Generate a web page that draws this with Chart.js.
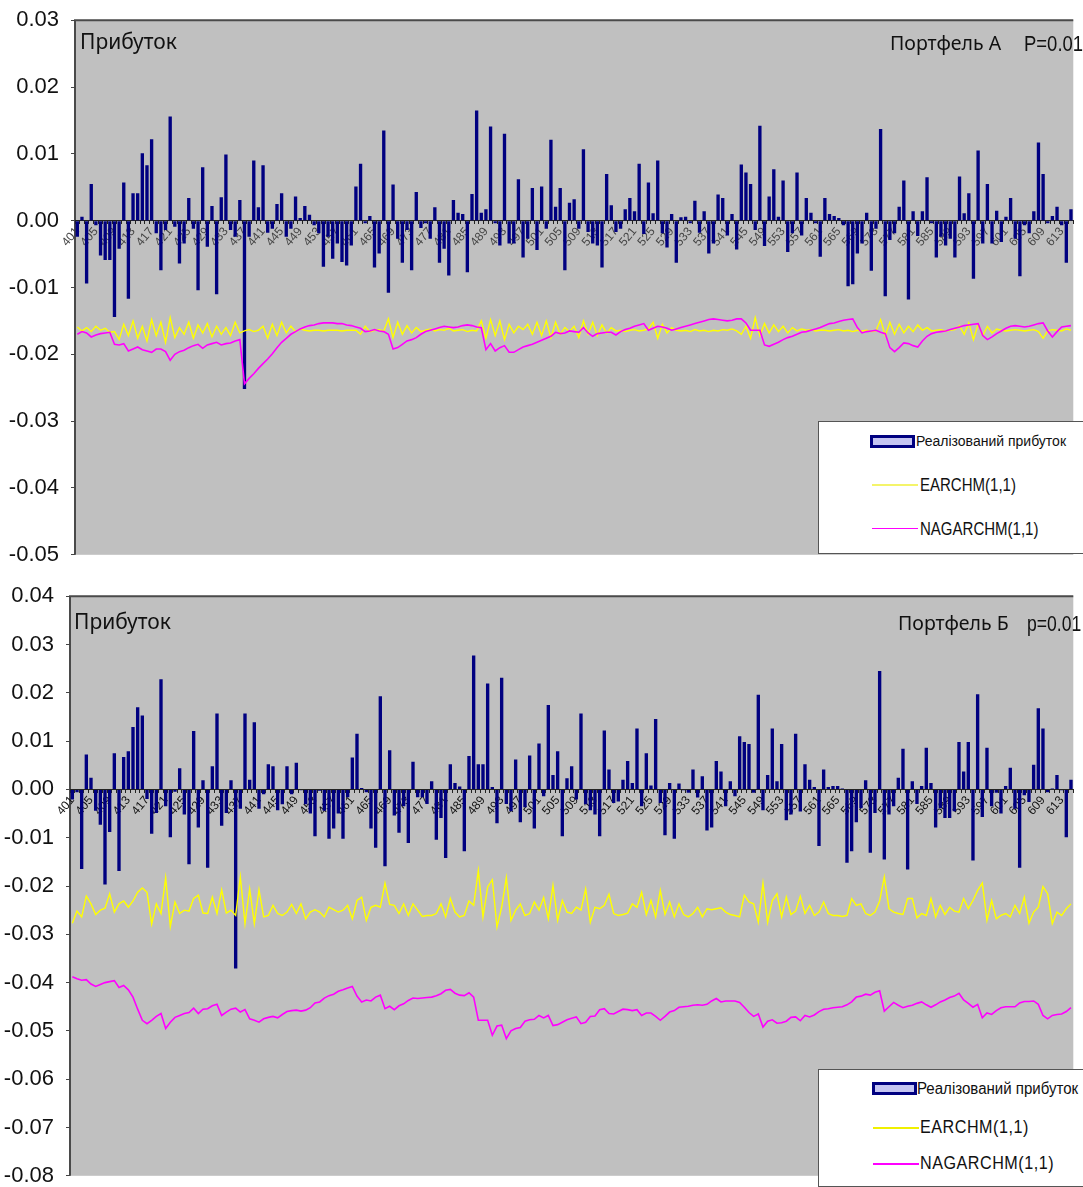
<!DOCTYPE html>
<html>
<head>
<meta charset="utf-8">
<script src="https://cdn.jsdelivr.net/npm/chart.js@4.4.1/dist/chart.umd.min.js"></script>
<style>
body { margin: 0; background: #fff; width: 1083px; height: 1187px; position: relative; overflow: hidden; }
.panel { position: absolute; left: 0; width: 1083px; }
#p1 { top: 0; }
#p2 { top: 576px; }
.txt { position: absolute; white-space: nowrap; color: #111; line-height: 1; transform-origin: 0 50%; }
.cap { font-family: 'Noto Sans', 'Open Sans', sans-serif; font-size: 21px; }
.narrow { font-family: 'Liberation Sans', Arial, sans-serif; }
.legend { position: absolute; background: #fff; border: 1px solid #555; }
.sym { position: absolute; width: 39px; height: 7px; border: 3px solid #000080; background: #c4c4f2; }
.ln { position: absolute; width: 46px; height: 0; }
</style>
</head>
<body>
<div class="panel" id="p1"><canvas id="chartA" width="1083" height="575"></canvas></div>
<div class="panel" id="p2"><canvas id="chartB" width="1083" height="611"></canvas></div>

<div class="txt cap" style="left:80px;top:31px;">Прибуток</div>
<div class="txt cap" style="left:890px;top:33px;font-size:19.5px;">Портфель А</div>
<div class="txt narrow" style="left:1024px;top:33px;font-size:22px;transform:scaleX(0.84);">P=0.01</div>

<div class="txt cap" style="left:74px;top:611px;">Прибуток</div>
<div class="txt cap" style="left:898px;top:613px;font-size:19.5px;">Портфель Б</div>
<div class="txt narrow" style="left:1027px;top:613px;font-size:22px;transform:scaleX(0.8);">p=0.01</div>

<div class="legend" style="left:818px;top:421px;width:264px;height:131px;">
  <div class="sym" style="left:51px;top:13px;"></div>
  <div class="txt narrow" style="left:97px;top:12px;font-size:14px;">Реалізований прибуток</div>
  <div class="ln" style="left:53px;top:62px;border-top:2px solid #f4f46a;"></div>
  <div class="txt narrow" style="left:101px;top:53px;font-size:19px;transform:scaleX(0.79);">EARCHM(1,1)</div>
  <div class="ln" style="left:53px;top:106px;border-top:1px solid #ff00ff;"></div>
  <div class="txt narrow" style="left:101px;top:97px;font-size:19px;transform:scaleX(0.79);">NAGARCHM(1,1)</div>
</div>

<div class="legend" style="left:818px;top:1069px;width:264px;height:116px;">
  <div class="sym" style="left:53px;top:12px;"></div>
  <div class="txt narrow" style="left:98px;top:11px;font-size:16px;transform:scaleX(0.94);">Реалізований прибуток</div>
  <div class="ln" style="left:54px;top:57px;border-top:2px solid #f0f000;"></div>
  <div class="txt narrow" style="left:101px;top:47px;font-size:19px;transform:scaleX(0.85);letter-spacing:0.6px;">EARCHM(1,1)</div>
  <div class="ln" style="left:54px;top:93px;border-top:2px solid #ff00ff;"></div>
  <div class="txt narrow" style="left:101px;top:83px;font-size:19px;transform:scaleX(0.85);letter-spacing:0.6px;">NAGARCHM(1,1)</div>
</div>

<script>
// categories 401..615
const categories = Array.from({ length: 215 }, (_, i) => String(401 + i));

// Portfolio A
const barsA = [
  -0.0024, 0.0006, -0.0094, 0.0055, -0.0007, -0.0052, -0.0059, -0.0059, -0.0144, -0.0042,
  0.0057, -0.0117, 0.0041, 0.0041, 0.0101, 0.0083, 0.0122, -0.0019, -0.0074, -0.0014,
  0.0156, -0.0009, -0.0064, -0.0034, 0.0034, -0.0012, -0.0104, 0.0080, -0.0039, 0.0022,
  -0.0110, 0.0035, 0.0099, -0.0014, -0.0024, 0.0031, -0.0252, -0.0024, 0.0090, 0.0020,
  0.0083, -0.0018, -0.0012, 0.0025, 0.0041, -0.0024, -0.0012, 0.0036, 0.0004, 0.0022,
  0.0009, -0.0007, -0.0019, -0.0069,
  -0.0024, -0.0057, -0.0034, -0.0062, -0.0067, -0.0037, 0.0051, 0.0085, -0.0004, 0.0007,
  -0.0070, -0.0049, 0.0135, -0.0108, 0.0054, -0.0027, -0.0063, -0.0014, -0.0074, 0.0043,
  -0.0011, -0.0004, -0.0027, 0.0020, -0.0063, -0.0042, -0.0082, 0.0031, 0.0012, 0.0010,
  -0.0077, 0.0040, 0.0165, 0.0012, 0.0017, 0.0141, -0.0004, -0.0037, 0.0130, -0.0034,
  -0.0034, 0.0062, -0.0055, -0.0027, 0.0049, -0.0044, 0.0051, -0.0012, 0.0121, 0.0021,
  0.0049, -0.0074, 0.0027, 0.0032, -0.0012,
  0.0107, -0.0017, -0.0034, -0.0037, -0.0070, 0.0070, 0.0023, -0.0017, -0.0012, 0.0017,
  0.0034, 0.0014, 0.0085, -0.0020, 0.0057, 0.0011, 0.0090, -0.0019, -0.0040, 0.0010,
  -0.0063, 0.0005, 0.0006, -0.0004, 0.0030, -0.0018, 0.0014, -0.0049, -0.0034, 0.0039,
  0.0034, -0.0022, 0.0010, -0.0043, 0.0084, 0.0072, 0.0055, -0.0014, 0.0142, -0.0038,
  0.0036, 0.0077, 0.0006, 0.0060, -0.0047, -0.0019, 0.0072, -0.0022, 0.0034, 0.0012,
  -0.0004, -0.0054, 0.0034, 0.0010,
  0.0007, 0.0004, -0.0007, -0.0098, -0.0095, -0.0049, -0.0034, 0.0012, -0.0075, -0.0012,
  0.0137, -0.0113, -0.0029, -0.0019, 0.0021, 0.0060, -0.0118, 0.0014, -0.0023, 0.0014,
  0.0065, -0.0004, -0.0055, -0.0024, -0.0037, -0.0027, -0.0055, 0.0066, 0.0011, 0.0041,
  -0.0087, 0.0105, -0.0034, 0.0055, -0.0034, 0.0015, -0.0032, 0.0006, 0.0034, -0.0027,
  -0.0083, -0.0007, -0.0019, 0.0014, 0.0117, 0.0070, -0.0004, 0.0007, 0.0021, -0.0007,
  -0.0063, 0.0017
];
const earchA = [
  -0.0159, -0.0165, -0.0160, -0.0166, -0.0158, -0.0164, -0.0161, -0.0167,
  -0.0166, -0.0178, -0.0155, -0.0172, -0.0150, -0.0176, -0.0158, -0.0180, -0.0148, -0.0172,
  -0.0152, -0.0182, -0.0145, -0.0175, -0.0160, -0.0170, -0.0152, -0.0176, -0.0156, -0.0168,
  -0.0154, -0.0174, -0.0158, -0.0170, -0.0160, -0.0172, -0.0152, -0.0168,
  -0.0165, -0.0163, -0.0166, -0.0164,
  -0.0158, -0.0176, -0.0155, -0.0172, -0.0152, -0.0168, -0.0158, -0.0166, -0.0162,
  -0.0164, -0.0165, -0.0164, -0.0164, -0.0165, -0.0164, -0.0164, -0.0164, -0.0165, -0.0164, -0.0164, -0.0164,
  -0.0170, -0.0158, -0.0166,
  -0.0164, -0.0163, -0.0165,
  -0.0147, -0.0175, -0.0152, -0.0170, -0.0157, -0.0168, -0.0160, -0.0166,
  -0.0164, -0.0162, -0.0165, -0.0163, -0.0164, -0.0161, -0.0165, -0.0164, -0.0163, -0.0166, -0.0164, -0.0165,
  -0.0150, -0.0176, -0.0148, -0.0172, -0.0150, -0.0178, -0.0155, -0.0168, -0.0158, -0.0163,
  -0.0155, -0.0170, -0.0152, -0.0172, -0.0150, -0.0175, -0.0152, -0.0170, -0.0160, -0.0166,
  -0.0158, -0.0175, -0.0150, -0.0170, -0.0152, -0.0172, -0.0156, -0.0168, -0.0160, -0.0165,
  -0.0164, -0.0166, -0.0164, -0.0163, -0.0165, -0.0164, -0.0162,
  -0.0152, -0.0176, -0.0155, -0.0168, -0.0160,
  -0.0164, -0.0165, -0.0164, -0.0166, -0.0163, -0.0165, -0.0164, -0.0166, -0.0164, -0.0165, -0.0163, -0.0164, -0.0162, -0.0165,
  -0.0170, -0.0158, -0.0176, -0.0145, -0.0172, -0.0154, -0.0168, -0.0156, -0.0166, -0.0158, -0.0168, -0.0160, -0.0165, -0.0162,
  -0.0164, -0.0163, -0.0165, -0.0164, -0.0164, -0.0165, -0.0164, -0.0163, -0.0165, -0.0164, -0.0166, -0.0164, -0.0165, -0.0164, -0.0166, -0.0165,
  -0.0148, -0.0172, -0.0152, -0.0170, -0.0155, -0.0168, -0.0158, -0.0166, -0.0156, -0.0164, -0.0160, -0.0165,
  -0.0164, -0.0163, -0.0165, -0.0164, -0.0163,
  -0.0157, -0.0170, -0.0153, -0.0178, -0.0155, -0.0172, -0.0158, -0.0168, -0.0162,
  -0.0164, -0.0165, -0.0164, -0.0163, -0.0164, -0.0165, -0.0164, -0.0163,
  -0.0166, -0.0176, -0.0165, -0.0163, -0.0164, -0.0165, -0.0162, -0.0164
];
const nagarchA = [
  -0.0170, -0.0166, -0.0168, -0.0174, -0.0171, -0.0169, -0.0168, -0.0167, -0.0185, -0.0186,
  -0.0184, -0.0195, -0.0192, -0.0189, -0.0193, -0.0195, -0.0197, -0.0192, -0.0192, -0.0196,
  -0.0209, -0.0200, -0.0196, -0.0194, -0.0190, -0.0187, -0.0185, -0.0191, -0.0186, -0.0184,
  -0.0182, -0.0186, -0.0184, -0.0183, -0.0180, -0.0178, -0.0244, -0.0236, -0.0229, -0.0221,
  -0.0214, -0.0207, -0.0199, -0.0190, -0.0182, -0.0176, -0.0170, -0.0166, -0.0162, -0.0159,
  -0.0157, -0.0156, -0.0154, -0.0153, -0.0153, -0.0153, -0.0154, -0.0154, -0.0156, -0.0157,
  -0.0159, -0.0161, -0.0166, -0.0165, -0.0163, -0.0165, -0.0166, -0.0170, -0.0192, -0.0190,
  -0.0185, -0.0180, -0.0178, -0.0175, -0.0170, -0.0166, -0.0164, -0.0162, -0.0160, -0.0158,
  -0.0159, -0.0160, -0.0159, -0.0157, -0.0156, -0.0157, -0.0159, -0.0160, -0.0193, -0.0184,
  -0.0195, -0.0190, -0.0187, -0.0197, -0.0197, -0.0193, -0.0189, -0.0187, -0.0185, -0.0182,
  -0.0179, -0.0176, -0.0173, -0.0167, -0.0169, -0.0168, -0.0165, -0.0166, -0.0167, -0.0160,
  -0.0168, -0.0173, -0.0169, -0.0168, -0.0167, -0.0167, -0.0171, -0.0166, -0.0163, -0.0161,
  -0.0158, -0.0156, -0.0154, -0.0164, -0.0161, -0.0158, -0.0159, -0.0161, -0.0164, -0.0162,
  -0.0160, -0.0158, -0.0156, -0.0154, -0.0152, -0.0150, -0.0148, -0.0147, -0.0148, -0.0149,
  -0.0150, -0.0149, -0.0147, -0.0147, -0.0153, -0.0164, -0.0164, -0.0164, -0.0186, -0.0188,
  -0.0185, -0.0182, -0.0178, -0.0175, -0.0173, -0.0170, -0.0167, -0.0166, -0.0164, -0.0162,
  -0.0160, -0.0157, -0.0154, -0.0153, -0.0151, -0.0149, -0.0148, -0.0147, -0.0160, -0.0168,
  -0.0166, -0.0165, -0.0164, -0.0167, -0.0169, -0.0190, -0.0196, -0.0190, -0.0183, -0.0184,
  -0.0187, -0.0189, -0.0180, -0.0173, -0.0169, -0.0167, -0.0166, -0.0165, -0.0163, -0.0161,
  -0.0159, -0.0157, -0.0156, -0.0155, -0.0154, -0.0172, -0.0178, -0.0174, -0.0169, -0.0165,
  -0.0161, -0.0158, -0.0157, -0.0158, -0.0159, -0.0158, -0.0156, -0.0154, -0.0153, -0.0165,
  -0.0174, -0.0166, -0.0159, -0.0158, -0.0157
];

// Portfolio B
const barsB = [
  -0.0021, -0.0006, -0.0165, 0.0072, 0.0024, -0.0044, -0.0073, -0.0197, -0.0088, 0.0075,
  -0.0169, 0.0067, 0.0079, 0.0129, 0.0170, 0.0153, -0.0020, -0.0092, -0.0049, 0.0228,
  -0.0035, -0.0099, -0.0005, 0.0044, -0.0052, -0.0155, 0.0121, -0.0079, 0.0019, -0.0162,
  0.0048, 0.0157, -0.0075, -0.0049, 0.0019, -0.0371, -0.0040, 0.0157, 0.0020, 0.0139,
  -0.0040, -0.0010, 0.0052, 0.0048, -0.0043, -0.0031, 0.0048, -0.0010, 0.0055, -0.0002,
  -0.0031, -0.0050, -0.0097,
  -0.0003, -0.0044, -0.0102, -0.0081, -0.0050, -0.0102, -0.0016, 0.0066, 0.0115, 0.0003,
  -0.0006, -0.0081, -0.0121, 0.0193, -0.0159, 0.0081, -0.0054, -0.0090, -0.0035, -0.0111,
  0.0057, -0.0016, -0.0016, -0.0030, 0.0017, -0.0104, -0.0059, -0.0142, 0.0052, 0.0013,
  0.0006, -0.0128, 0.0069, 0.0277, 0.0052, 0.0052, 0.0219, 0.0005, -0.0070, 0.0231,
  -0.0030, -0.0045, 0.0062, -0.0068, -0.0037, 0.0070, -0.0081, 0.0095, -0.0014, 0.0175,
  0.0030, 0.0079, -0.0097, 0.0023,
  0.0048, -0.0021, 0.0157, -0.0031, -0.0043, -0.0052, -0.0097, 0.0122, 0.0041, -0.0028,
  -0.0025, 0.0020, 0.0059, 0.0013, 0.0126, -0.0035, 0.0075, 0.0008, 0.0146, -0.0028,
  -0.0095, 0.0013, -0.0102, 0.0012, -0.0002, -0.0007, 0.0041, -0.0017, 0.0027, -0.0085,
  -0.0079, 0.0059, 0.0037, -0.0035, 0.0017, -0.0014, 0.0110, 0.0098, 0.0094, -0.0007,
  0.0196, -0.0043, 0.0030, 0.0126, 0.0017, 0.0094, -0.0064, -0.0052, 0.0115, -0.0046,
  0.0052, 0.0020, 0.0005, -0.0117,
  0.0041, 0.0005, 0.0007, 0.0007, 0.0002, -0.0152, -0.0128, -0.0068, -0.0039, 0.0019,
  -0.0131, -0.0049, 0.0245, -0.0145, -0.0052, -0.0035, 0.0024, 0.0084, -0.0166, 0.0017,
  -0.0030, 0.0007, 0.0086, 0.0013, -0.0079, -0.0039, -0.0059, -0.0059, -0.0045, 0.0098,
  0.0037, 0.0098, -0.0147, 0.0197, -0.0057, 0.0086, -0.0035, -0.0007, -0.0050, 0.0007,
  0.0045, -0.0040, -0.0162, -0.0012, -0.0026, 0.0051, 0.0168, 0.0126, -0.0006, 0.0002,
  0.0030, -0.0002, -0.0099, 0.0020
];
const earchB = [
  -0.0277, -0.0252, -0.0264, -0.0221, -0.0237, -0.0259, -0.0250, -0.0246, -0.0216, -0.0254,
  -0.0237, -0.0231, -0.0244, -0.0231, -0.0213, -0.0204, -0.0213, -0.0279, -0.0237, -0.0257,
  -0.0183, -0.0284, -0.0233, -0.0257, -0.0250, -0.0252, -0.0226, -0.0219, -0.0256, -0.0257,
  -0.0223, -0.0257, -0.0208, -0.0256, -0.0250, -0.0261, -0.0181, -0.0278, -0.0206, -0.0278,
  -0.0208, -0.0264, -0.0261, -0.0240, -0.0257, -0.0261, -0.0254, -0.0238, -0.0257, -0.0237,
  -0.0268, -0.0254, -0.0249,
  -0.0254, -0.0264, -0.0244, -0.0249, -0.0254, -0.0250, -0.0240, -0.0268, -0.0230, -0.0223,
  -0.0271, -0.0244, -0.0240, -0.0244, -0.0194, -0.0238, -0.0240, -0.0257, -0.0237, -0.0261,
  -0.0237, -0.0250, -0.0263, -0.0261, -0.0261, -0.0257, -0.0237, -0.0264, -0.0226, -0.0254,
  -0.0264, -0.0261, -0.0231, -0.0240, -0.0168, -0.0264, -0.0202, -0.0187, -0.0285, -0.0244,
  -0.0183, -0.0271, -0.0250, -0.0237, -0.0261, -0.0257, -0.0233, -0.0250, -0.0224, -0.0268,
  -0.0199, -0.0271, -0.0230, -0.0254,
  -0.0257, -0.0244, -0.0250, -0.0206, -0.0275, -0.0244, -0.0247, -0.0240, -0.0217, -0.0257,
  -0.0261, -0.0259, -0.0256, -0.0237, -0.0244, -0.0213, -0.0259, -0.0230, -0.0264, -0.0209,
  -0.0259, -0.0233, -0.0264, -0.0237, -0.0259, -0.0264, -0.0257, -0.0244, -0.0264, -0.0247,
  -0.0249, -0.0247, -0.0245, -0.0254, -0.0259, -0.0261, -0.0264, -0.0219, -0.0233, -0.0237,
  -0.0275, -0.0194, -0.0275, -0.0230, -0.0216, -0.0264, -0.0223, -0.0259, -0.0252, -0.0221,
  -0.0257, -0.0240, -0.0261, -0.0254,
  -0.0233, -0.0257, -0.0261, -0.0261, -0.0263, -0.0261, -0.0226, -0.0240, -0.0237, -0.0257,
  -0.0261, -0.0254, -0.0231, -0.0181, -0.0247, -0.0254, -0.0257, -0.0259, -0.0226, -0.0226,
  -0.0266, -0.0257, -0.0261, -0.0226, -0.0264, -0.0240, -0.0259, -0.0244, -0.0252, -0.0254,
  -0.0226, -0.0247, -0.0230, -0.0209, -0.0194, -0.0271, -0.0230, -0.0268, -0.0261, -0.0257,
  -0.0264, -0.0240, -0.0257, -0.0223, -0.0277, -0.0254, -0.0244, -0.0201, -0.0216, -0.0278,
  -0.0254, -0.0261, -0.0247, -0.0237
];
const nagarchB = [
  -0.0388, -0.0392, -0.0395, -0.0394, -0.0403, -0.0408, -0.0404, -0.0400, -0.0398, -0.0396,
  -0.0410, -0.0406, -0.0415, -0.0430, -0.0455, -0.0478, -0.0485, -0.0478, -0.0470, -0.0464,
  -0.0495, -0.0482, -0.0472, -0.0468, -0.0464, -0.0462, -0.0453, -0.0464, -0.0455, -0.0454,
  -0.0448, -0.0445, -0.0468, -0.0461, -0.0455, -0.0453, -0.0461, -0.0456, -0.0475, -0.0478,
  -0.0482, -0.0475, -0.0472, -0.0470, -0.0473, -0.0466, -0.0460, -0.0458, -0.0457, -0.0459,
  -0.0457, -0.0452, -0.0442, -0.0440, -0.0432, -0.0427, -0.0424, -0.0418, -0.0415, -0.0411,
  -0.0408, -0.0428, -0.0440, -0.0436, -0.0438, -0.0430, -0.0426, -0.0454, -0.0449, -0.0456,
  -0.0448, -0.0444, -0.0437, -0.0432, -0.0433, -0.0432, -0.0431, -0.0430, -0.0427, -0.0423,
  -0.0416, -0.0414, -0.0422, -0.0426, -0.0427, -0.0421, -0.0430, -0.0478, -0.0478, -0.0478,
  -0.0509, -0.0490, -0.0488, -0.0516, -0.0500, -0.0495, -0.0493, -0.0480, -0.0477, -0.0476,
  -0.0468, -0.0473, -0.0468, -0.0489, -0.0487, -0.0482, -0.0477, -0.0474, -0.0471, -0.0485,
  -0.0482, -0.0470, -0.0469, -0.0456, -0.0454, -0.0464, -0.0465, -0.0460, -0.0455, -0.0456,
  -0.0458, -0.0456, -0.0468, -0.0463, -0.0463, -0.0470, -0.0478, -0.0470, -0.0461, -0.0458,
  -0.0451, -0.0450, -0.0449, -0.0447, -0.0446, -0.0447, -0.0445, -0.0438, -0.0433, -0.0440,
  -0.0438, -0.0438, -0.0438, -0.0441, -0.0451, -0.0462, -0.0470, -0.0465, -0.0492, -0.0480,
  -0.0477, -0.0484, -0.0483, -0.0480, -0.0472, -0.0471, -0.0479, -0.0468, -0.0471, -0.0467,
  -0.0460, -0.0455, -0.0454, -0.0452, -0.0451, -0.0450, -0.0446, -0.0440, -0.0430, -0.0428,
  -0.0424, -0.0426, -0.0420, -0.0417, -0.0459, -0.0450, -0.0441, -0.0447, -0.0452, -0.0449,
  -0.0447, -0.0443, -0.0440, -0.0446, -0.0451, -0.0446, -0.0440, -0.0436, -0.0431, -0.0428,
  -0.0422, -0.0436, -0.0443, -0.0451, -0.0445, -0.0473, -0.0463, -0.0466, -0.0458, -0.0452,
  -0.0450, -0.0450, -0.0450, -0.0442, -0.0439, -0.0439, -0.0438, -0.0445, -0.0468, -0.0475,
  -0.0468, -0.0466, -0.0465, -0.0460, -0.0452
];

const TICK_FONT = "'Liberation Sans', Arial, sans-serif";

// gray plot area with dark top and left edges
const plotBg = {
    id: 'plotBg',
    beforeDraw(chart) {
        const { ctx, chartArea: a } = chart;
        ctx.save();
        ctx.fillStyle = '#c0c0c0';
        ctx.fillRect(a.left, a.top, a.right - a.left, a.bottom - a.top);
        ctx.strokeStyle = '#4a4a4a';
        ctx.lineWidth = 2;
        ctx.beginPath();
        ctx.moveTo(a.left, a.bottom);
        ctx.lineTo(a.left, a.top);
        ctx.lineTo(a.right, a.top);
        ctx.stroke();
        ctx.restore();
    },
};

function makeChart(id, bars, earch, nagarch, yMin, yMax, axisW, labelColor) {
    const ctx = document.getElementById(id).getContext('2d');
    return new Chart(ctx, {
        data: {
            labels: categories,
            datasets: [
                {
                    type: 'line',
                    label: 'NAGARCHM(1,1)',
                    data: nagarch,
                    borderColor: '#ff00ff',
                    borderWidth: 1.6,
                    pointRadius: 0,
                    tension: 0,
                    order: 1,
                },
                {
                    type: 'line',
                    label: 'EARCHM(1,1)',
                    data: earch,
                    borderColor: '#ffff00',
                    borderWidth: 1.4,
                    pointRadius: 0,
                    tension: 0,
                    order: 2,
                },
                {
                    type: 'bar',
                    label: 'Реалізований прибуток',
                    data: bars,
                    backgroundColor: '#000080',
                    borderWidth: 0,
                    barPercentage: 0.72,
                    categoryPercentage: 1,
                    order: 3,
                },
            ],
        },
        options: {
            responsive: false,
            maintainAspectRatio: false,
            animation: false,
            layout: { padding: 0 },
            plugins: { legend: { display: false }, tooltip: { enabled: false } },
            scales: {
                x: {
                    position: { y: 0 },
                    offset: true,
                    grid: { display: true, drawOnChartArea: false, tickLength: 3, color: '#222' },
                    border: { display: true, color: '#222', width: 1 },
                    ticks: {
                        autoSkip: false,
                        maxRotation: 50,
                        minRotation: 50,
                        padding: 1,
                        color: labelColor,
                        font: { family: TICK_FONT, size: 12 },
                        callback: (v, i) => (i % 4 === 0 ? categories[i] : ''),
                    },
                },
                y: {
                    min: yMin,
                    max: yMax,
                    afterFit: (s) => { s.width = axisW; },
                    grid: { display: true, drawOnChartArea: false, tickLength: 4, color: '#444' },
                    border: { display: false },
                    ticks: {
                        stepSize: 0.01,
                        padding: 12,
                        color: '#111',
                        font: { family: TICK_FONT, size: 22 },
                        callback: (v) => (Math.abs(v) < 1e-9 ? '0.00' : v.toFixed(2)),
                    },
                },
            },
        },
        plugins: [plotBg],
    });
}

// size and place a chart so that its plot area spans [top, bottom] on the page
function placeChart(chart, panelId, top, bottom) {
    const a = chart.chartArea;
    const h = Math.round(chart.height + (bottom - top) - (a.bottom - a.top));
    chart.resize(1083, h);
    document.getElementById(panelId).style.top = Math.round(top - chart.chartArea.top) + 'px';
}

const chartA = makeChart('chartA', barsA, earchA, nagarchA, -0.05, 0.03, 75, '#444');
const chartB = makeChart('chartB', barsB, earchB, nagarchB, -0.08, 0.04, 70, '#111');
placeChart(chartA, 'p1', 20, 555);
placeChart(chartB, 'p2', 596, 1176);
</script>
</body>
</html>
